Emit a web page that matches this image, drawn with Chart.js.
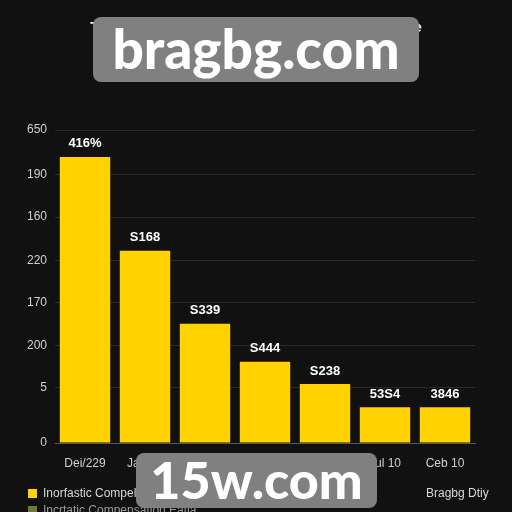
<!DOCTYPE html>
<html>
<head>
<meta charset="utf-8">
<script src="https://cdn.jsdelivr.net/npm/chart.js@4.4.1/dist/chart.umd.min.js"></script>
<style>
  html, body { margin: 0; padding: 0; background: #111111; }
  #wrap { position: relative; width: 512px; height: 512px; overflow: hidden; background: #111111; font-family: "Liberation Sans", Arial, sans-serif; }
  #chart { position: absolute; left: 0; top: 0; }
  .title { position: absolute; left: 0; width: 512px; text-align: center; color: #f2f2f2; font-weight: bold; font-size: 14px; }
  .legend { position: absolute; color: #d8d8d8; font-size: 12px; white-space: nowrap; }
  .legend span.sw { display: inline-block; width: 9px; height: 9px; margin-right: 6px; vertical-align: -1px; }
  .mark { position: absolute; background: #808080; border-radius: 8px; color: #ffffff; font-family: Lato, "Open Sans", sans-serif; font-weight: 900; text-align: center; }
</style>
</head>
<body>
<div id="wrap">
  <canvas id="chart" width="512" height="512"></canvas>
  <div class="title" style="top:19px;">Top Income Sources by Compensation Type, Rate</div>
  <div class="title" style="top:41px;">Share of Total Income, Dec 2023 to Ceb 2010</div>
  <div class="legend" style="left:28px; top:486px;"><span class="sw" style="background:#ffd200;"></span>Inorfastic Compelonent Share</div>
  <div class="legend" style="left:28px; top:503px; color:#9a9a9a;"><span class="sw" style="background:#6f7a3a;"></span>Incrtatic Compensation Eatia</div>
  <div class="legend" style="left:426px; top:486px;">Bragbg Dtiy</div>
  <div class="mark" style="left:93px; top:17px; width:326px; height:65px; line-height:62px; font-size:55px;">bragbg.com</div>
  <div class="mark" style="left:136px; top:453px; width:241px; height:55px; line-height:52px; font-size:52px;">15w.com</div>
</div>
<script>
// categories along the bottom
const categories = ['Dei/229', 'Jan 10', 'Mar 10', 'Apr 10', 'May 10', 'Jul 10', 'Ceb 10'];
// bar heights (in axis units)
const barValues = [6.70, 4.50, 2.79, 1.90, 1.38, 0.84, 0.84];
// text printed above each bar
const barLabels = ['416%', 'S168', 'S339', 'S444', 'S238', '53S4', '3846'];
// y axis ticks: where they sit and what they say
const yTickValues = [0, 1.29, 2.29, 3.29, 4.28, 5.29, 6.29, 7.33];
const yTickLabels = ['0', '5', '200', '170', '220', '160', '190', '650'];

const barTextPlugin = {
    id: 'barText',
    afterDatasetsDraw(chart) {
        const ctx = chart.ctx;
        const meta = chart.getDatasetMeta(0);
        ctx.save();
        ctx.fillStyle = '#ffffff';
        ctx.font = 'bold 13px "Liberation Sans", Arial, sans-serif';
        ctx.textAlign = 'center';
        ctx.textBaseline = 'middle';
        meta.data.forEach((bar, i) => {
            ctx.fillText(barLabels[i], bar.x, bar.y - 13);
        });
        ctx.restore();
    }
};

function createChart() {
    const ctx = document.getElementById('chart').getContext('2d');
    new Chart(ctx, {
        type: 'bar',
        data: {
            labels: categories,
            datasets: [{
                label: 'Inorfastic Compelonent Share',
                data: barValues,
                backgroundColor: '#ffd200',
                borderWidth: 0,
                barPercentage: 0.84,
                categoryPercentage: 1.0
            }]
        },
        options: {
            responsive: false,
            animation: false,
            layout: { padding: { left: 0, right: 37, top: 130, bottom: 0 } },
            scales: {
                x: {
                    grid: { display: false, drawTicks: false },
                    border: { display: true, color: '#5a5a5a', width: 1 },
                    ticks: { color: '#d0d0d0', padding: 13, font: { size: 12, family: '"Liberation Sans", Arial, sans-serif' }, maxRotation: 0 },
                    afterFit(scale) { scale.height = 69; }
                },
                y: {
                    min: 0,
                    max: 7.33,
                    afterBuildTicks(scale) {
                        scale.ticks = yTickValues.map(v => ({ value: v }));
                    },
                    afterFit(scale) { scale.width = 55; },
                    grid: { color: '#2a2a2a', drawTicks: false, lineWidth: 1 },
                    border: { display: false },
                    ticks: {
                        color: '#d0d0d0',
                        padding: 8,
                        font: { size: 12, family: '"Liberation Sans", Arial, sans-serif' },
                        callback: function(value) {
                            const i = yTickValues.indexOf(value);
                            return i >= 0 ? yTickLabels[i] : '';
                        }
                    }
                }
            },
            plugins: {
                legend: { display: false },
                title: { display: false },
                tooltip: { enabled: false }
            }
        },
        plugins: [barTextPlugin]
    });
}

document.addEventListener('DOMContentLoaded', function() {
    createChart();
});
</script>
</body>
</html>
